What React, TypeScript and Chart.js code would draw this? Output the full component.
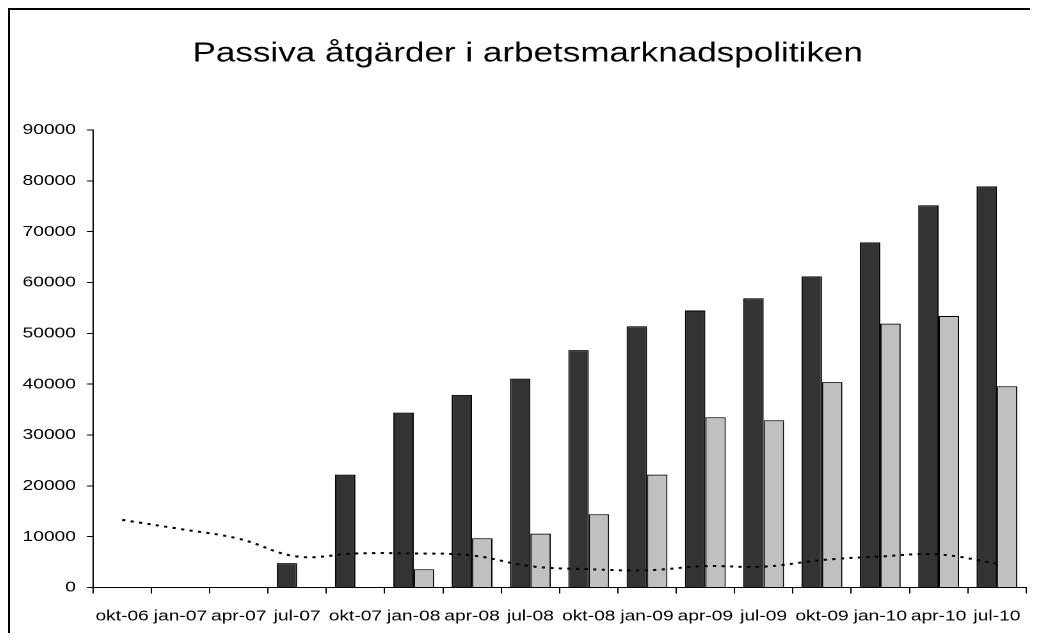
import React, { useEffect, useRef } from "react";
import { Chart, registerables } from "chart.js";

Chart.register(...registerables);

// ---- data ----
const categories = [
  "okt-06", "jan-07", "apr-07", "jul-07", "okt-07", "jan-08", "apr-08", "jul-08",
  "okt-08", "jan-09", "apr-09", "jul-09", "okt-09", "jan-10", "apr-10", "jul-10",
];

const darkSeries = [
  null, null, null, 4800, 22200, 34400, 37900, 41100,
  46700, 51400, 54500, 56900, 61200, 67900, 75200, 78900,
];

const lightSeries = [
  null, null, null, null, null, 3600, 9700, 10600,
  14400, 22200, 33500, 32900, 40400, 51900, 53400, 39600,
];

const dottedSeries = [
  13300, 11500, 9600, 6100, 6700, 6700, 6300, 4200,
  3600, 3400, 4200, 4100, 5400, 6100, 6500, 4700,
];

const yMin = 0;
const yMax = 90000;
const yStep = 10000;

const titleText = "Passiva åtgärder i arbetsmarknadspolitiken";

// ---- layout ----
const STRETCH = 1.28;
const W = 805;
const H = 633;
const FONT = "'Liberation Sans', Arial, Helvetica, sans-serif";

const frameAndTitle = {
  id: "frameAndTitle",
  afterDraw(chart: any) {
    const ctx = chart.ctx;
    ctx.save();
    ctx.fillStyle = "#000";
    ctx.fillRect(0, 0, 1.5, chart.height);
    ctx.fillRect(0, 0, chart.width, 2);
    ctx.font = `normal 27.4px ${FONT}`;
    ctx.textAlign = "center";
    ctx.textBaseline = "alphabetic";
    ctx.fillText(titleText, chart.width / 2 + 3.5, 53.7);
    ctx.restore();
  },
};

export default function App() {
  const ref = useRef<HTMLCanvasElement | null>(null);

  useEffect(() => {
    if (!ref.current) return;
    const chart = new Chart(ref.current, {
      type: "bar",
      data: {
        labels: categories,
        datasets: [
          {
            type: "line",
            label: "Linje",
            data: dottedSeries,
            borderColor: "#000",
            borderWidth: 2,
            borderDash: [2.5, 4.2],
            pointRadius: 0,
            tension: 0.4,
            fill: false,
            order: 0,
          } as any,
          {
            type: "bar",
            label: "Serie 1",
            data: darkSeries,
            backgroundColor: "#333333",
            borderColor: "#000",
            borderWidth: 1,
            categoryPercentage: 0.7,
            barPercentage: 1,
            order: 1,
          },
          {
            type: "bar",
            label: "Serie 2",
            data: lightSeries,
            backgroundColor: "#C0C0C0",
            borderColor: "#000",
            borderWidth: 1,
            categoryPercentage: 0.7,
            barPercentage: 1,
            order: 1,
          },
        ],
      },
      options: {
        responsive: true,
        maintainAspectRatio: false,
        animation: false,
        devicePixelRatio: 2,
        events: [],
        layout: { padding: { top: 122, right: 2, bottom: 0, left: 0 } },
        plugins: {
          legend: { display: false },
          tooltip: { enabled: false },
          title: { display: false },
        },
        scales: {
          x: {
            type: "category",
            offset: true,
            grid: {
              offset: true,
              drawOnChartArea: false,
              drawTicks: true,
              tickLength: 6,
              color: "#000",
              lineWidth: 1,
            },
            border: { display: true, color: "#000", width: 1 },
            ticks: {
              color: "#000",
              font: { family: FONT, size: 15 },
              padding: 14,
              maxRotation: 0,
              autoSkip: false,
            },
            afterFit: (s: any) => {
              s.height = 53.5;
            },
          },
          y: {
            min: yMin,
            max: yMax,
            grid: {
              drawOnChartArea: false,
              drawTicks: true,
              tickLength: 4.7,
              color: "#000",
              lineWidth: 1,
            },
            border: { display: true, color: "#000", width: 1 },
            ticks: {
              stepSize: yStep,
              color: "#000",
              font: { family: FONT, size: 15 },
              padding: 8.6,
              callback: (v: any) => String(v),
            },
            afterFit: (s: any) => {
              s.width = 66.4;
            },
          },
        },
      },
      plugins: [frameAndTitle],
    });
    return () => chart.destroy();
  }, []);

  return (
    <div style={{ width: 1030, height: H, overflow: "hidden", marginBottom: -8 }}>
      <div
        style={{
          width: W,
          height: H,
          position: "relative",
          transform: `scaleX(${STRETCH})`,
          transformOrigin: "0 0",
        }}
      >
        <canvas ref={ref} />
      </div>
    </div>
  );
}
